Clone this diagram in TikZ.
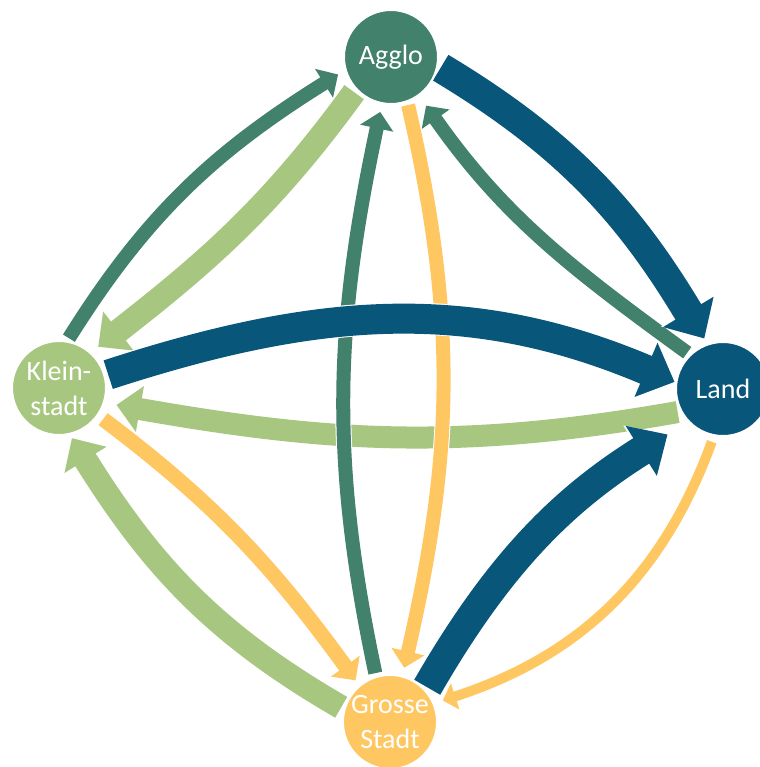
\documentclass[tikz,border=0pt]{standalone}
\usepackage{fontspec}
\setmainfont{Carlito}
\usetikzlibrary{arrows.meta,backgrounds}
\definecolor{agglogreen}{HTML}{42816B}
\definecolor{landblue}{HTML}{08567A}
\definecolor{kleingreen}{HTML}{A7C780}
\definecolor{grossyellow}{HTML}{FFC761}
\newcommand{\townfont}{\fontsize{14pt}{17.5pt}\selectfont}

\begin{document}
\begin{tikzpicture}[x=0.5pt,y=0.5pt,
	town/.style={circle,draw=white,line width=1pt,minimum size=47pt,inner sep=0pt,text=white,font=\townfont,align=center},
	flow/.style={-{Triangle[width=6pt 1.5,length=2pt 0.9]},line width=#1,shorten <=1.5pt,preaction={draw=white,line width=#1+1pt}}
	]
	\useasboundingbox (0,0) rectangle (760,-767);
	\node[town,fill=agglogreen] at (391,-57) (agglo) {Agglo};
	\node[town,fill=landblue] at (723,-389) (land) {Land};
	\node[town,fill=kleingreen] at (59,-388) (klein) {Klein-\\stadt};
	\node[town,fill=grossyellow] at (390,-722) (gross) {Grosse\\Stadt};
	
	\begin{scope}[on background layer]
	% to Kleinstadt
	\path (land.-152) edge[flow=11pt,kleingreen,out=-170,in=-10,shorten >=6pt] (klein.-18);
	\path (agglo.-137) edge[flow=12pt,kleingreen,out=-126,in=38,shorten >=4.5pt] (klein.48);
	\path (gross.164) edge[flow=12pt,kleingreen,out=150,in=-58,shorten >=2pt] (klein.-77);
	
	% to Agglo and Grosse Stadt
	\path (land.134) edge[flow=7pt,agglogreen,out=144,in=-55,shorten >=6pt] (agglo.-54);
	\path (klein.80) edge[flow=7pt,agglogreen,out=58,in=-148,shorten >=4pt] (agglo.-164);
	\path (gross.107) edge[flow=7pt,agglogreen,out=102,in=-102,shorten >=4pt] (agglo.-101);
	\path (agglo.-70) edge[flow=7pt,grossyellow,out=-77,in=77,shorten >=4pt] (gross.75);
	\path (land.-101) edge[flow=5pt,grossyellow,out=-110,in=18,shorten <=3pt,shorten >=4.5pt] (gross.23);
	\path (klein.-35) edge[flow=7.5pt,grossyellow,out=-37,in=126,shorten <=3pt,shorten >=3pt] (gross.130);
	
	% to Land
	\path (agglo.-11) edge[flow=15pt,landblue,out=-31,in=121,shorten >=3pt] (land.109);
	\path (klein.15) edge[flow=15pt,landblue,out=18,in=157,shorten >=0.5pt] (land.172);
	\path (gross.42) edge[flow=15pt,landblue,out=60,in=-148,shorten >=12pt] (land.-137);
	\end{scope}
\end{tikzpicture}
\end{document}
